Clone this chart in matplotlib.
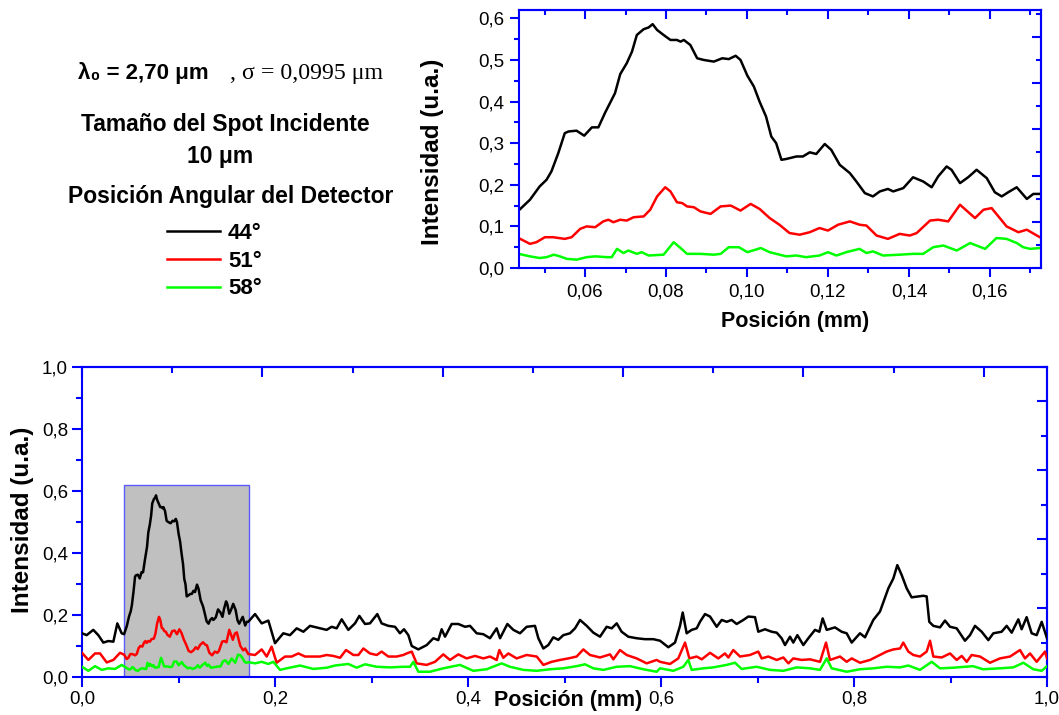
import matplotlib
matplotlib.use('Agg')
import matplotlib.pyplot as plt
from matplotlib.patches import Rectangle
from matplotlib.ticker import MultipleLocator, FuncFormatter

plt.rcParams['font.family'] = ['Liberation Sans', 'DejaVu Sans']

# --- dados (posição em mm, intensidade em u.a.) ---
x_44 = [0.0, 0.0048, 0.0117, 0.0169, 0.0221, 0.0273, 0.0325, 0.0366, 0.0411,
        0.0436, 0.0464, 0.0488, 0.0505, 0.0517, 0.0534, 0.055, 0.0559, 0.0579, 0.0598,
        0.0617, 0.0633, 0.065, 0.0674, 0.0687, 0.0703, 0.0716, 0.0728, 0.0745, 0.0757,
        0.0767, 0.0778, 0.0794, 0.0811, 0.0827, 0.0836, 0.0844, 0.086, 0.0877, 0.0893,
        0.0918, 0.0939, 0.0955, 0.0972, 0.0984, 0.1001, 0.1017, 0.1031, 0.1047, 0.106,
        0.1072, 0.1085, 0.1097, 0.1122, 0.1138, 0.1155, 0.1171, 0.1192, 0.1208, 0.1229,
        0.1254, 0.127, 0.1291, 0.1311, 0.1328, 0.1348, 0.1361, 0.1386, 0.141, 0.1435,
        0.1456, 0.1472, 0.1493, 0.1505, 0.1526, 0.1546, 0.1567, 0.1592, 0.1612, 0.1629,
        0.1645, 0.1666, 0.1691, 0.1707, 0.1723, 0.1793, 0.1862, 0.1931, 0.2, 0.2086,
        0.2155, 0.2225, 0.2294, 0.2363, 0.2466, 0.2535, 0.2587, 0.2639, 0.2691, 0.276,
        0.2829, 0.2874, 0.2933, 0.2984, 0.306, 0.3105, 0.3174, 0.3244, 0.3295, 0.3337,
        0.3382, 0.3417, 0.3485, 0.3572, 0.3641, 0.3692, 0.3727, 0.3762, 0.3831, 0.39,
        0.3969, 0.4021, 0.409, 0.4159, 0.4228, 0.4297, 0.4332, 0.4408, 0.447, 0.4539,
        0.4608, 0.4694, 0.4729, 0.4781, 0.4832, 0.4884, 0.4936, 0.4988, 0.5057, 0.5109,
        0.5161, 0.523, 0.5299, 0.5368, 0.5437, 0.5489, 0.5541, 0.5592, 0.5661, 0.5748,
        0.5834, 0.5921, 0.599, 0.6076, 0.6145, 0.6197, 0.6225, 0.6266, 0.6318, 0.637,
        0.6404, 0.6456, 0.6508, 0.6577, 0.6629, 0.6681, 0.6732, 0.6784, 0.6853, 0.6905,
        0.6974, 0.7008, 0.7078, 0.7147, 0.7199, 0.725, 0.7285, 0.7337, 0.7371, 0.7413,
        0.7475, 0.7527, 0.7596, 0.7641, 0.7675, 0.7717, 0.7803, 0.7872, 0.7924, 0.7976,
        0.8062, 0.8114, 0.82, 0.8269, 0.8356, 0.8408, 0.8449, 0.8494, 0.8546, 0.8597,
        0.8666, 0.8718, 0.8753, 0.878, 0.8822, 0.8891, 0.8943, 0.8995, 0.9064, 0.915,
        0.9202, 0.9254, 0.9323, 0.9392, 0.9444, 0.953, 0.9582, 0.9634, 0.9703, 0.9737,
        0.9789, 0.9841, 0.9893, 0.9945, 1.0]
y_44 = [0.141, 0.135, 0.152, 0.135, 0.111, 0.116, 0.114, 0.173, 0.141,
        0.138, 0.164, 0.196, 0.212, 0.232, 0.276, 0.324, 0.328, 0.33, 0.318,
        0.338, 0.338, 0.374, 0.42, 0.466, 0.492, 0.52, 0.56, 0.574, 0.578,
        0.586, 0.572, 0.56, 0.548, 0.548, 0.544, 0.548, 0.536, 0.504, 0.5,
        0.496, 0.504, 0.502, 0.51, 0.5, 0.462, 0.436, 0.4, 0.364, 0.316,
        0.3, 0.26, 0.262, 0.268, 0.268, 0.278, 0.274, 0.298, 0.284, 0.248,
        0.228, 0.208, 0.18, 0.172, 0.184, 0.19, 0.184, 0.192, 0.218, 0.208,
        0.194, 0.22, 0.244, 0.236, 0.204, 0.218, 0.236, 0.216, 0.182, 0.172,
        0.182, 0.194, 0.166, 0.178, 0.178, 0.203, 0.173, 0.182, 0.109, 0.141,
        0.135, 0.157, 0.146, 0.165, 0.157, 0.152, 0.162, 0.157, 0.186, 0.152,
        0.173, 0.197, 0.171, 0.173, 0.203, 0.173, 0.165, 0.162, 0.141, 0.154,
        0.135, 0.1, 0.089, 0.103, 0.125, 0.119, 0.154, 0.13, 0.171, 0.171,
        0.162, 0.165, 0.141, 0.138, 0.125, 0.157, 0.125, 0.171, 0.152, 0.141,
        0.162, 0.165, 0.125, 0.092, 0.103, 0.128, 0.12, 0.135, 0.141, 0.157,
        0.184, 0.165, 0.143, 0.13, 0.162, 0.157, 0.173, 0.146, 0.13, 0.125,
        0.122, 0.122, 0.117, 0.096, 0.111, 0.165, 0.208, 0.141, 0.152, 0.157,
        0.178, 0.203, 0.195, 0.162, 0.184, 0.178, 0.184, 0.171, 0.184, 0.195,
        0.193, 0.146, 0.154, 0.146, 0.143, 0.125, 0.103, 0.13, 0.111, 0.135,
        0.103, 0.125, 0.152, 0.146, 0.189, 0.152, 0.16, 0.146, 0.141, 0.111,
        0.141, 0.128, 0.184, 0.211, 0.286, 0.318, 0.361, 0.329, 0.286, 0.257,
        0.26, 0.262, 0.26, 0.178, 0.165, 0.16, 0.182, 0.162, 0.157, 0.117,
        0.135, 0.165, 0.146, 0.119, 0.141, 0.146, 0.165, 0.143, 0.186, 0.154,
        0.193, 0.141, 0.135, 0.178, 0.125]

x_51 = [0.0, 0.0066, 0.0135, 0.0187, 0.0256, 0.0325, 0.0394,
        0.0436, 0.0464, 0.048, 0.0501, 0.0521, 0.055, 0.0567, 0.0588, 0.0604, 0.0625,
        0.0645, 0.0658, 0.067, 0.0687, 0.0703, 0.072, 0.0745, 0.0761, 0.0778, 0.0798,
        0.0811, 0.0827, 0.084, 0.0852, 0.0869, 0.0885, 0.091, 0.0935, 0.096, 0.0984,
        0.1009, 0.1031, 0.1056, 0.108, 0.1105, 0.113, 0.1155, 0.1179, 0.12, 0.1225,
        0.1254, 0.1278, 0.1295, 0.132, 0.1348, 0.1377, 0.1402, 0.1419, 0.1452, 0.1472,
        0.1497, 0.1526, 0.1563, 0.1584, 0.1604, 0.1641, 0.167, 0.1691, 0.1723,
        0.1793, 0.1862, 0.1914, 0.1965, 0.2017, 0.2104, 0.2173, 0.2242, 0.2311, 0.238,
        0.2466, 0.2535, 0.2604, 0.2674, 0.2736, 0.2812, 0.2864, 0.2916, 0.2984, 0.3054,
        0.3105, 0.3174, 0.3261, 0.333, 0.3365, 0.3417, 0.3468, 0.3572, 0.3658, 0.3744,
        0.3813, 0.39, 0.3986, 0.4073, 0.4159, 0.4228, 0.4297, 0.4325, 0.4366, 0.4418,
        0.4504, 0.4608, 0.4712, 0.4781, 0.4867, 0.4953, 0.504, 0.5126, 0.5195, 0.5264,
        0.5368, 0.5472, 0.5506, 0.5575, 0.5644, 0.5748, 0.5851, 0.5955, 0.599, 0.6093,
        0.6179, 0.6249, 0.6294, 0.637, 0.6422, 0.6508, 0.6594, 0.6663, 0.6698, 0.6749,
        0.6819, 0.6922, 0.7008, 0.7043, 0.7112, 0.7199, 0.7268, 0.732, 0.7371, 0.7458,
        0.7544, 0.7648, 0.771, 0.7751, 0.7855, 0.7924, 0.7976, 0.8062, 0.8166, 0.8269,
        0.8338, 0.8408, 0.8477, 0.8511, 0.8563, 0.8615, 0.8684, 0.8753, 0.8788, 0.8822,
        0.8909, 0.8995, 0.9064, 0.9116, 0.9168, 0.9219, 0.9306, 0.9409, 0.9513, 0.9617,
        0.972, 0.9772, 0.9824, 0.9893, 0.9979, 1.0]
y_51 = [0.078, 0.055, 0.076, 0.076, 0.047, 0.055, 0.078,
        0.072, 0.058, 0.062, 0.074, 0.074, 0.07, 0.074, 0.094, 0.1, 0.098,
        0.112, 0.116, 0.11, 0.116, 0.114, 0.122, 0.124, 0.14, 0.172, 0.194,
        0.184, 0.158, 0.156, 0.148, 0.146, 0.136, 0.13, 0.148, 0.15, 0.138,
        0.154, 0.142, 0.12, 0.104, 0.084, 0.08, 0.086, 0.096, 0.09, 0.104,
        0.112, 0.104, 0.102, 0.078, 0.07, 0.082, 0.078, 0.084, 0.114, 0.116,
        0.112, 0.152, 0.12, 0.14, 0.144, 0.1, 0.086, 0.092, 0.074,
        0.071, 0.089, 0.066, 0.098, 0.046, 0.066, 0.066, 0.076, 0.066, 0.066,
        0.066, 0.071, 0.068, 0.062, 0.087, 0.071, 0.071, 0.092, 0.076, 0.071,
        0.082, 0.066, 0.066, 0.071, 0.076, 0.082, 0.044, 0.039, 0.049, 0.073,
        0.055, 0.073, 0.06, 0.068, 0.06, 0.066, 0.055, 0.087, 0.062, 0.076,
        0.06, 0.071, 0.066, 0.039, 0.049, 0.055, 0.06, 0.066, 0.089, 0.071,
        0.063, 0.073, 0.057, 0.087, 0.071, 0.06, 0.044, 0.055, 0.049, 0.042,
        0.06, 0.111, 0.06, 0.066, 0.057, 0.078, 0.06, 0.076, 0.063, 0.087,
        0.066, 0.071, 0.082, 0.06, 0.066, 0.055, 0.063, 0.044, 0.06, 0.055,
        0.057, 0.049, 0.111, 0.055, 0.066, 0.049, 0.06, 0.046, 0.055, 0.071,
        0.082, 0.089, 0.092, 0.111, 0.082, 0.071, 0.066, 0.082, 0.117, 0.066,
        0.063, 0.076, 0.055, 0.068, 0.049, 0.071, 0.066, 0.046, 0.06, 0.066,
        0.087, 0.06, 0.076, 0.049, 0.082, 0.06]

x_58 = [0.0, 0.0066, 0.0135, 0.0204, 0.0273, 0.0342, 0.0411,
        0.0436, 0.0464, 0.0488, 0.0505, 0.0523, 0.0538, 0.0555, 0.0579, 0.0604, 0.0625,
        0.0654, 0.0666, 0.0679, 0.0695, 0.0707, 0.0728, 0.074, 0.0757, 0.0794, 0.0819,
        0.0836, 0.0852, 0.0885, 0.0918, 0.0935, 0.0955, 0.098, 0.1001, 0.1034, 0.1056,
        0.1097, 0.1122, 0.1146, 0.1179, 0.12, 0.1221, 0.1245, 0.1278, 0.1295, 0.1311,
        0.1336, 0.1377, 0.141, 0.1435, 0.146, 0.1485, 0.1518, 0.1551, 0.1588, 0.1616,
        0.1641, 0.1666, 0.1682, 0.1699, 0.1724, 0.1793, 0.1862, 0.1931, 0.1983, 0.2052,
        0.2121, 0.2259, 0.2397, 0.2535, 0.2622, 0.276, 0.2846, 0.2933, 0.3054, 0.3192,
        0.333, 0.3399, 0.3434, 0.3485, 0.3606, 0.3744, 0.3917, 0.4055, 0.4193, 0.4349,
        0.4435, 0.4573, 0.4712, 0.485, 0.4988, 0.5126, 0.5212, 0.5299, 0.5403, 0.5541,
        0.5679, 0.5817, 0.5955, 0.599, 0.6128, 0.6231, 0.6283, 0.6318, 0.6439, 0.6542,
        0.668, 0.6767, 0.6836, 0.6991, 0.7129, 0.7268, 0.7406, 0.7544, 0.7648, 0.7717,
        0.7769, 0.7924, 0.8062, 0.82, 0.8338, 0.8477, 0.8563, 0.8684, 0.8805, 0.8891,
        0.9029, 0.9233, 0.9337, 0.9513, 0.9651, 0.9755, 0.9858, 0.9945, 1.0]
y_58 = [0.033, 0.02, 0.035, 0.023, 0.028, 0.026, 0.039,
        0.034, 0.028, 0.024, 0.026, 0.032, 0.028, 0.022, 0.02, 0.026, 0.028,
        0.026, 0.026, 0.046, 0.036, 0.042, 0.034, 0.038, 0.03, 0.032, 0.062,
        0.048, 0.034, 0.034, 0.032, 0.034, 0.05, 0.05, 0.038, 0.048, 0.038,
        0.028, 0.03, 0.026, 0.03, 0.038, 0.03, 0.038, 0.046, 0.036, 0.04,
        0.03, 0.032, 0.034, 0.034, 0.05, 0.054, 0.042, 0.06, 0.046, 0.072,
        0.07, 0.06, 0.05, 0.046, 0.048, 0.044, 0.049, 0.042, 0.049, 0.023,
        0.028, 0.037, 0.026, 0.03, 0.037, 0.042, 0.03, 0.041, 0.033, 0.031,
        0.033, 0.033, 0.049, 0.017, 0.017, 0.028, 0.039, 0.02, 0.025, 0.044,
        0.033, 0.023, 0.02, 0.025, 0.028, 0.035, 0.041, 0.028, 0.023, 0.033,
        0.035, 0.025, 0.017, 0.028, 0.02, 0.033, 0.055, 0.023, 0.028, 0.031,
        0.039, 0.046, 0.026, 0.033, 0.023, 0.02, 0.031, 0.028, 0.023, 0.06,
        0.028, 0.017, 0.025, 0.028, 0.033, 0.031, 0.037, 0.023, 0.049, 0.028,
        0.03, 0.035, 0.025, 0.028, 0.031, 0.046, 0.025, 0.02, 0.035]

series = [(x_44, y_44, 'black', '44°'),
          (x_51, y_51, '#ff0000', '51°'),
          (x_58, y_58, '#00ff00', '58°')]

zoom_x = (0.0437, 0.1726)   # região ampliada
zoom_ymax = 0.62

azul = '#0000ff'


def virgula(casas):
    return FuncFormatter(lambda v, p: f'{v:.{casas}f}'.replace('.', ','))


def eixos_origin(ax, xmaj, xmin, ymaj, ymin, fx_top, fy_right, maj_len, min_len):
    # ticks de fora em baixo/esquerda, de dentro em cima/direita (estilo Origin)
    for s in ax.spines.values():
        s.set_color(azul)
        s.set_linewidth(1.5)
    ax.xaxis.set_major_locator(MultipleLocator(xmaj))
    ax.xaxis.set_minor_locator(MultipleLocator(xmin))
    ax.yaxis.set_major_locator(MultipleLocator(ymaj))
    ax.yaxis.set_minor_locator(MultipleLocator(ymin))
    ax.tick_params(which='both', direction='out', color=azul, width=1.5,
                   labelsize=13.5, labelcolor='black')
    ax.tick_params(which='major', length=maj_len)
    ax.tick_params(which='minor', length=min_len)

    top = ax.secondary_xaxis('top', functions=(lambda x: x * fx_top, lambda x: x / fx_top))
    top.xaxis.set_major_locator(MultipleLocator(xmaj))
    top.xaxis.set_minor_locator(MultipleLocator(xmin))
    right = ax.secondary_yaxis('right', functions=(lambda y: y * fy_right, lambda y: y / fy_right))
    right.yaxis.set_major_locator(MultipleLocator(ymaj))
    right.yaxis.set_minor_locator(MultipleLocator(ymin))
    for sec in (top, right):
        for s in sec.spines.values():
            s.set_color(azul)
            s.set_linewidth(1.5)
        sec.tick_params(which='both', direction='in', color=azul, width=1.5,
                        labeltop=False, labelright=False)
        sec.tick_params(which='major', length=maj_len)
        sec.tick_params(which='minor', length=min_len)


fig = plt.figure(figsize=(10.59, 7.15), dpi=100)
ax_top = fig.add_axes([519 / 1059, 1 - 268 / 715, 522 / 1059, 258 / 715])
ax_bot = fig.add_axes([82 / 1059, 1 - 677 / 715, 965 / 1059, 310 / 715])

linhas = []
for x, y, cor, rot in series:
    l, = ax_top.plot(x, y, color=cor, lw=1.8, label=rot)
    linhas.append(l)
    ax_bot.plot(x, y, color=cor, lw=1.8, zorder=3)

# região ampliada marcada no gráfico completo
ax_bot.add_patch(Rectangle((zoom_x[0], 0), zoom_x[1] - zoom_x[0], zoom_ymax,
                           facecolor='#c0c0c0', edgecolor='#5a5aff', lw=1, zorder=1))

ax_top.set_xlim(*zoom_x)
ax_top.set_ylim(0, zoom_ymax)
eixos_origin(ax_top, 0.02, 0.01, 0.1, 0.05, 1.0, 0.9, 6.5, 3.5)
ax_top.xaxis.set_major_formatter(virgula(2))
ax_top.yaxis.set_major_formatter(virgula(1))
ax_top.tick_params(axis='x', pad=5)
ax_top.tick_params(axis='y', pad=4)
ax_top.set_xlabel('Posición (mm)', fontsize=15.5, fontweight='bold', va='center')
ax_top.xaxis.set_label_coords(0.529, -0.208)
ax_top.set_ylabel('Intensidad (u.a.)', fontsize=17.5, fontweight='bold', va='center')
ax_top.yaxis.set_label_coords(-0.165, 0.45)

ax_bot.set_xlim(0, 1.0)
ax_bot.set_ylim(0, 1.0)
eixos_origin(ax_bot, 0.2, 0.1, 0.2, 0.1, 1.07, 0.9, 7, 4)
ax_bot.xaxis.set_major_formatter(virgula(1))
ax_bot.yaxis.set_major_formatter(virgula(1))
ax_bot.tick_params(axis='both', pad=3)
ax_bot.set_xlabel('Posición (mm)', fontsize=15.5, fontweight='bold', va='center')
ax_bot.xaxis.set_label_coords(0.504, -0.075)
ax_bot.set_ylabel('Intensidad (u.a.)', fontsize=17.5, fontweight='bold', va='center')
ax_bot.yaxis.set_label_coords(-0.062, 0.506)

# bloco de texto à esquerda
fig.text(78 / 1059, 1 - 73 / 715, 'λ₀ = 2,70 μm', fontsize=16, fontweight='bold', va='center')
fig.text(230 / 1059, 1 - 73 / 715, ', σ = 0,0995 μm', fontsize=17.2,
         family=['Liberation Serif', 'DejaVu Serif'], va='center')
fig.text(225 / 1059, 1 - 125 / 715, 'Tamaño del Spot Incidente', fontsize=16.5,
         fontweight='bold', ha='center', va='center')
fig.text(220 / 1059, 1 - 157 / 715, '10 μm', fontsize=16.5, fontweight='bold',
         ha='center', va='center')
fig.text(231 / 1059, 1 - 197 / 715, 'Posición Angular del Detector', fontsize=16.5,
         fontweight='bold', ha='center', va='center')

fig.legend(handles=linhas, loc='upper left', bbox_to_anchor=(167 / 1059, 1 - 223 / 715),
           frameon=False, prop={'weight': 'bold', 'size': 16}, handlelength=2.4,
           handletextpad=0.35, labelspacing=0.3, borderpad=0, borderaxespad=0)

fig.savefig('out.png', dpi=100)
